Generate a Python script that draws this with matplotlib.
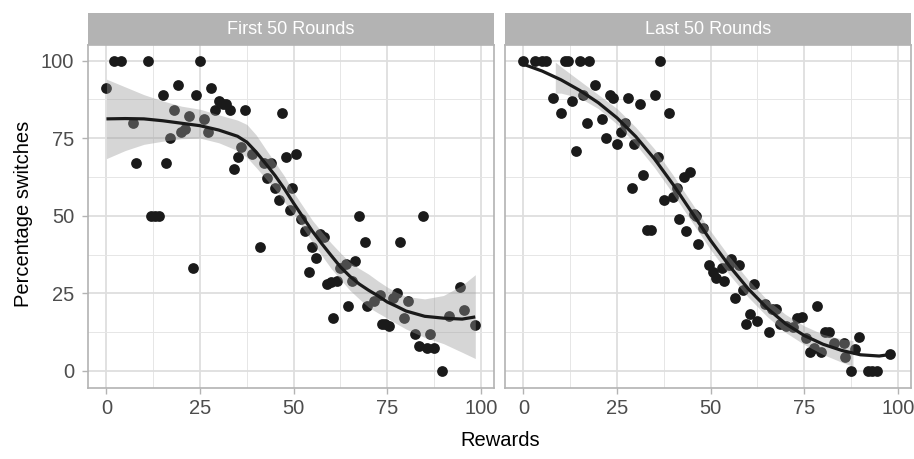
import matplotlib.pyplot as plt
from matplotlib.ticker import MultipleLocator
import numpy as np

plt.rcParams['font.family'] = ['Liberation Sans', 'DejaVu Sans']

# observed (reward, % switches) pairs, first 50 rounds
first_x = [0, 2, 4, 11, 25, 7, 8, 15, 19, 18, 16, 17, 20, 21, 22, 24, 26, 27, 28,
           30, 29, 31, 32, 33, 37, 47, 36, 35, 34, 39, 42, 44, 43, 45, 46, 48, 49,
           50.5, 49.5, 12, 13, 14, 23, 41, 52, 53, 55, 56, 54, 57, 58, 59, 60, 61.5,
           60.5, 62.5, 64, 65.5, 66.5, 67.5, 69, 64.5, 69.5, 71.5, 73, 73.5, 74.5,
           75.5, 76.5, 77.5, 78.5, 80.5, 79.5, 84.5, 82.5, 83.5, 85.5, 87.5, 86.5,
           89.5, 91.5, 94.5, 95.5, 98.5]
first_y = [91, 100, 100, 100, 100, 80, 67, 89, 92, 84, 67, 75, 77, 78, 82, 89, 81, 77, 91,
           87, 84, 86, 86, 84, 84, 83, 72, 69, 65, 70, 67, 67, 62, 59, 55, 69, 52,
           70, 59, 50, 50, 50, 33, 40, 49, 45, 40, 36.5, 32, 44, 43, 28, 28.5, 29,
           17, 33, 34.5, 29, 35.5, 50, 41.5, 21, 21, 22.5, 24.5, 15, 15,
           14.5, 23.5, 25, 41.5, 22.5, 17, 50, 12, 8, 7.3, 7.5, 12,
           0, 17.7, 27, 19.7, 14.7]

# last 50 rounds
last_x = [0, 3, 5, 6, 11, 12, 15, 17.5, 36.5, 8, 10, 13, 14, 16, 17, 19, 21, 22, 23, 24,
          25, 26, 27, 28, 29.5, 31, 35, 39, 36, 32, 29, 43, 44.5, 41, 37.5, 40, 45.5,
          41.5, 33, 34, 43.5, 46, 48, 46.5, 49.5, 50.5, 51.5, 53.5, 53, 55.5, 55,
          57.5, 56.5, 58.5, 61.5, 60.5, 59.5, 62.5, 64.5, 65.5, 66.5, 67.5, 68.5, 70,
          72, 73, 74.5, 78.5, 75.5, 76.5, 77.5, 79.5, 80.5, 81.5, 83, 85.5, 86, 87.5,
          88.5, 89.5, 92, 93, 94.5, 98]
last_y = [100, 100, 100, 100, 100, 100, 100, 100, 100, 88, 83, 87, 71, 89, 80, 92, 81, 75,
          89, 88, 73, 77, 80, 88, 73, 86, 89, 83, 69, 63, 59, 62.5, 64, 59, 55, 56, 50.5,
          49, 45.5, 45.5, 45, 50, 46, 41, 34, 32, 30, 29, 33, 36, 34,
          34, 23.5, 26, 28, 18.5, 15, 16, 21.5, 12.5, 20, 20, 15, 14.5,
          14, 17, 17.5, 21, 10.5, 6, 7.5, 6, 12.5, 12.5, 9, 9, 4.5, 0,
          7, 11, 0, 0, 0, 5.5]

# smoothed trend with confidence band, first 50 rounds
first_fit_x = [0, 5, 10, 15, 20, 25, 30, 35, 37.5, 40, 42.5, 45, 47.5, 50, 52.5, 55,
               57.5, 60, 62.5, 65, 67.5, 70, 72.5, 75, 77.5, 80, 85, 90, 95, 98.5]
first_fit = [81.2, 81.3, 81.2, 80.6, 79.8, 79.0, 77.6, 75.6, 73.7, 70.5, 66.8, 63.0,
             58.7, 54.0, 49.5, 45.0, 41.0, 37.2, 33.5, 30.5, 28.0, 26.0, 24.2, 22.2,
             20.8, 19.3, 17.6, 17.0, 16.7, 17.4]
first_lo = [68.4, 71.0, 73.0, 74.0, 74.8, 75.0, 73.5, 71.0, 68.8, 65.5, 62.0, 58.5,
            54.5, 50.5, 46.0, 41.5, 37.2, 33.0, 29.5, 26.0, 23.2, 20.5, 18.7, 17.0,
            15.2, 13.5, 10.8, 8.8, 6.0, 4.0]
first_hi = [94.0, 91.5, 89.0, 87.0, 85.3, 84.3, 82.5, 80.8, 79.4, 76.0, 71.5, 67.2,
            62.8, 57.5, 53.0, 48.5, 44.8, 41.2, 38.0, 35.0, 33.0, 31.2, 29.0, 27.0,
            25.3, 24.0, 23.2, 24.3, 27.6, 31.0]

# last 50 rounds
last_fit_x = [0, 5, 10, 15, 20, 25, 30, 35, 40, 45, 50, 55, 60, 65, 70, 75, 80, 85,
              90, 95, 98]
last_fit = [98.8, 96.6, 93.8, 90.4, 86.4, 81.5, 75.5, 68.3, 60.0, 51.0, 42.0, 33.8,
            26.5, 20.3, 15.2, 11.4, 8.6, 6.6, 5.2, 4.8, 5.3]
last_band_x = [8.5, 10, 15, 20, 25, 30, 35, 40, 45, 50, 55, 60, 65, 70, 75, 80, 85, 88]
last_lo = [89.5, 89.5, 88.0, 84.5, 79.5, 73.0, 65.5, 57.0, 48.0, 39.0, 31.0, 23.8,
           17.6, 12.4, 8.5, 5.3, 2.8, 1.5]
last_hi = [99.5, 98.0, 93.5, 89.0, 84.5, 78.5, 71.5, 63.0, 54.0, 45.0, 36.8, 29.4,
           23.0, 18.2, 14.5, 11.8, 10.3, 9.8]

panels = [
    ('First 50 Rounds', first_x, first_y, first_fit_x, first_fit, first_fit_x, first_lo, first_hi),
    ('Last 50 Rounds', last_x, last_y, last_fit_x, last_fit, last_band_x, last_lo, last_hi),
]

ticks = [0, 25, 50, 75, 100]
grey70 = '#b3b3b3'

fig = plt.figure(figsize=(9.14, 4.59), dpi=100)
lefts = [88 / 914, 505 / 914]
w = 406 / 914
bottom = 1 - 388 / 459
h = 343 / 459

for i, (title, px, py, fx, fy, bx, lo, hi) in enumerate(panels):
    ax = fig.add_axes([lefts[i], bottom, w, h])
    ax.set_xlim(-4.93, 103.5)
    ax.set_ylim(-5.5, 105)

    ax.scatter(px, py, s=60, color='#1a1a1a', linewidths=0, zorder=3)
    ax.fill_between(bx, lo, hi, color='#999999', alpha=0.4, linewidth=0, zorder=4)
    ax.plot(fx, fy, color='#1a1a1a', linewidth=2.3, zorder=5, solid_capstyle='butt')

    ax.set_xticks(ticks)
    ax.set_yticks(ticks)
    ax.xaxis.set_minor_locator(MultipleLocator(12.5))
    ax.yaxis.set_minor_locator(MultipleLocator(12.5))
    ax.grid(True, which='major', color='#dedede', linewidth=1.3, zorder=0)
    ax.grid(True, which='minor', color='#e6e6e6', linewidth=0.7, zorder=0)
    ax.set_axisbelow(True)
    ax.tick_params(which='major', length=4, width=1.0, color=grey70,
                   labelsize=14.5, labelcolor='#4d4d4d', pad=4)
    ax.tick_params(axis='y', which='major', pad=6)
    ax.tick_params(which='minor', length=0)
    if i == 1:
        ax.tick_params(axis='y', which='major', length=0, labelleft=False)
    for sp in ax.spines.values():
        sp.set_color(grey70)
        sp.set_linewidth(1.2)

    # facet strip
    sax = fig.add_axes([lefts[i], 1 - 45 / 459, w, 32 / 459])
    sax.set_facecolor(grey70)
    sax.set_xticks([])
    sax.set_yticks([])
    for sp in sax.spines.values():
        sp.set_visible(False)
    sax.text(0.5, 0.48, title, color='white', fontsize=13,
             ha='center', va='center', transform=sax.transAxes)

fig.text(500 / 914, 1 - 441 / 459, 'Rewards', fontsize=14.5, ha='center', va='center')
fig.text(24 / 914, 1 - 214 / 459, 'Percentage switches', fontsize=14.5,
         rotation=90, ha='center', va='center')

fig.savefig('out.png', dpi=100)
